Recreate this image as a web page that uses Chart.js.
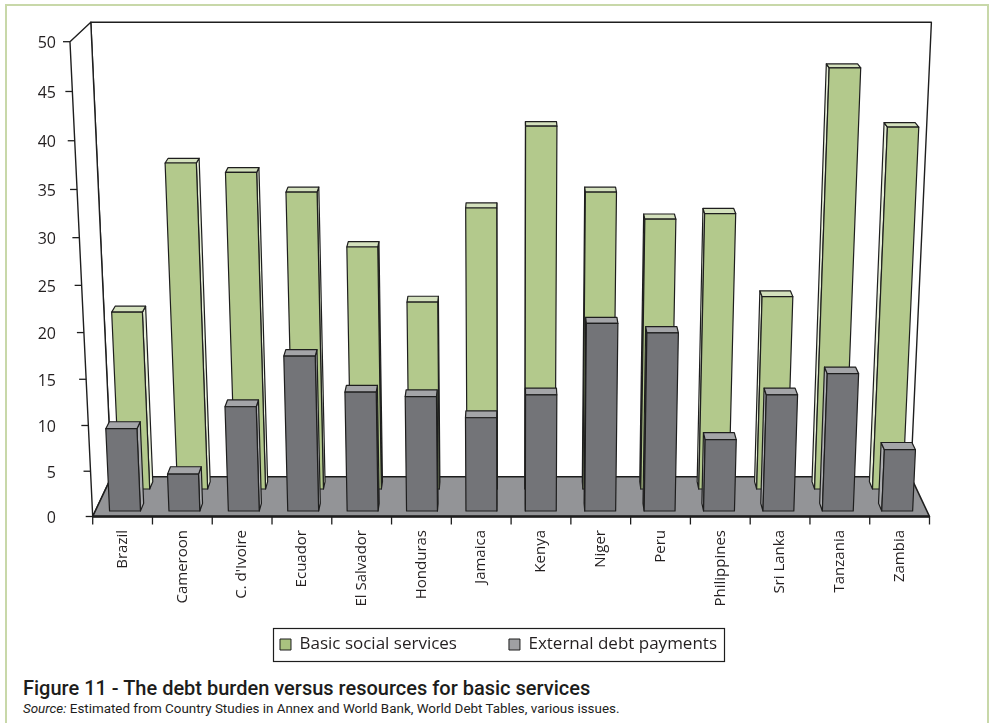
<!DOCTYPE html>
<html lang="en">
<head>
<meta charset="utf-8">
<title>The debt burden versus resources for basic services</title>
<script src="https://cdn.jsdelivr.net/npm/chart.js@4.4.1/dist/chart.umd.min.js"></script>
<style>
  html, body { margin: 0; padding: 0; background: #fff; }
  .page { position: relative; width: 993px; height: 723px; overflow: hidden; }
  .frame { position: absolute; left: 5px; top: 4px; width: 984px; height: 760px; box-sizing: border-box; border: 2px solid #c8d8a9; }
  .plot { position: absolute; left: 0; top: 0; width: 993px; height: 672px; }
  .caption { position: absolute; left: 23px; top: 676px; font: 500 20px Roboto, sans-serif; color: #1d1d1b; white-space: nowrap; }
  .source { position: absolute; left: 23px; top: 701px; font: 13.4px Roboto, sans-serif; color: #1d1d1b; white-space: nowrap; }
</style>
</head>
<body>
<div class="page">
  <div class="frame"></div>
  <div class="plot"><canvas id="debtChart"></canvas></div>
  <div class="caption">Figure 11 - The debt burden versus resources for basic services</div>
  <div class="source"><i>Source:</i> Estimated from Country Studies in Annex and World Bank, World Debt Tables, various issues.</div>
</div>
<script>
const countries = ["Brazil", "Cameroon", "C. d'Ivoire", "Ecuador", "El Salvador", "Honduras", "Jamaica",
    "Kenya", "Niger", "Peru", "Philippines", "Sri Lanka", "Tanzania", "Zambia"];
const basicServices = [19.8, 35.9, 34.9, 32.8, 26.9, 20.9, 31.1, 39.8, 32.8, 29.9, 30.5, 21.5, 45.9, 39.7];
const debtPayments = [9.1, 4.1, 11.5, 17.0, 13.1, 12.6, 10.3, 12.8, 20.5, 19.5, 7.9, 12.8, 15.1, 6.8];
const seriesLabels = ["Basic social services", "External debt payments"];
const valueMax = 50;
const valueStep = 5;

// one look per series: face colours and the depth slot of its row (0 = front, 1 = back wall)
const looks = [
    { front: "#b3c98c", top: "#d4e1bd", side: "#e6eed8", z0: 0.681, z1: 0.87 },
    { front: "#737478", top: "#a4a5a8", side: "#abacaf", z0: 0.133, z1: 0.32 },
];

// perspective camera, slightly above and looking down.
// X runs across (-0.5..0.5), Y up (0..1 of the value axis), Z into the page (0..1)
const cam = { cx: 511.1, sx: 836.8, y0: 516.5, yUp: -476.95, yDepth: -17.4, wDepth: 0.047, wUp: -0.0515 };
const ink = "#1e1e1e";
const textColor = "#231f20";

function project(X, Y, Z) {
    const w = 1 + cam.wDepth * Z + cam.wUp * Y;
    return [cam.cx + (cam.sx * X) / w, (cam.y0 + cam.yUp * Y + cam.yDepth * Z) / w];
}

function face(ctx, pts, fill, lineWidth) {
    ctx.beginPath();
    pts.forEach((p, i) => {
        const [px, py] = project(p[0], p[1], p[2]);
        if (i === 0) ctx.moveTo(px, py); else ctx.lineTo(px, py);
    });
    ctx.closePath();
    if (fill) {
        ctx.fillStyle = fill;
        ctx.fill();
    }
    ctx.lineWidth = lineWidth || 1.2;
    ctx.strokeStyle = ink;
    ctx.stroke();
}

function segment(ctx, a, b, lineWidth) {
    ctx.beginPath();
    ctx.moveTo(a[0], a[1]);
    ctx.lineTo(b[0], b[1]);
    ctx.lineWidth = lineWidth;
    ctx.strokeStyle = ink;
    ctx.stroke();
}

function drawPrism(ctx, x0, x1, top, look) {
    const { z0, z1 } = look;
    // only the side that faces the camera is visible
    const sx = (x0 + x1) / 2 < 0 ? x1 : x0;
    face(ctx, [[sx, 0, z0], [sx, top, z0], [sx, top, z1], [sx, 0, z1]], look.side);
    face(ctx, [[x0, top, z0], [x1, top, z0], [x1, top, z1], [x0, top, z1]], look.top);
    face(ctx, [[x0, 0, z0], [x0, top, z0], [x1, top, z0], [x1, 0, z0]], look.front);
}

const perspectiveBars = {
    id: "perspectiveBars",
    beforeDatasetsDraw(chart) {
        const { ctx, chartArea: area, scales } = chart;
        const flatX = (px) => (px - area.left) / area.width - 0.5;
        const flatY = (py) => (area.bottom - py) / area.height;
        ctx.save();
        ctx.lineJoin = "round";

        // back wall, left wall, floor
        face(ctx, [[-0.5, 0, 1], [-0.5, 1, 1], [0.5, 1, 1], [0.5, 0, 1]], "#ffffff", 1.4);
        face(ctx, [[-0.5, 0, 0], [-0.5, 1, 0], [-0.5, 1, 1], [-0.5, 0, 1]], "#ffffff", 1.4);
        face(ctx, [[-0.5, 0, 0], [0.5, 0, 0], [0.5, 0, 1], [-0.5, 0, 1]], "#939497", 1.6);
        segment(ctx, project(-0.5, 0, 0), project(0.5, 0, 0), 2.4);

        // back row first so the front row covers it
        chart.data.datasets.forEach((ds, di) => {
            const look = looks[di];
            chart.getDatasetMeta(di).data.forEach((bar) => {
                const { x, y, width } = bar.getProps(["x", "y", "width"], true);
                drawPrism(ctx, flatX(x - width / 2), flatX(x + width / 2), flatY(y), look);
            });
        });

        // value axis on the front edge of the left wall
        const yScale = scales.y;
        ctx.font = '16px "Open Sans", sans-serif';
        ctx.fillStyle = textColor;
        ctx.textAlign = "right";
        ctx.textBaseline = "middle";
        yScale.ticks.forEach((t) => {
            const p = project(-0.5, flatY(yScale.getPixelForValue(t.value)), 0);
            segment(ctx, [p[0] - 7, p[1]], p, 1.3);
            ctx.fillText(String(t.value), 56, p[1] + 2);
        });

        // category ticks and rotated country names
        const xScale = scales.x;
        const half = (xScale.getPixelForValue(1) - xScale.getPixelForValue(0)) / 2;
        for (let k = 0; k <= countries.length; k++) {
            const p = project(flatX(xScale.getPixelForValue(0) - half + 2 * half * k), 0, 0);
            segment(ctx, p, [p[0], p[1] + 8], 1.3);
        }
        ctx.font = '15px "Open Sans", sans-serif';
        countries.forEach((name, i) => {
            const p = project(flatX(xScale.getPixelForValue(i)), 0, 0);
            ctx.save();
            ctx.translate(p[0], 530);
            ctx.rotate(-Math.PI / 2);
            ctx.textAlign = "right";
            ctx.fillText(name, 0, 0);
            ctx.restore();
        });

        ctx.restore();
        return false;
    },
};

const legendFrame = {
    id: "legendFrame",
    afterDraw(chart) {
        const boxes = chart.legend && chart.legend.legendHitBoxes;
        if (!boxes || !boxes.length) return;
        const left = Math.min(...boxes.map((b) => b.left)) - 7;
        const right = Math.max(...boxes.map((b) => b.left + b.width)) + 7;
        const top = Math.min(...boxes.map((b) => b.top)) - 8;
        const bottom = Math.max(...boxes.map((b) => b.top + b.height)) + 8;
        const { ctx } = chart;
        ctx.save();
        ctx.strokeStyle = ink;
        ctx.lineWidth = 1.2;
        ctx.strokeRect(Math.round(left) + 0.5, Math.round(top) + 0.5, Math.round(right - left), Math.round(bottom - top));
        ctx.restore();
    },
};

new Chart(document.getElementById("debtChart"), {
    type: "bar",
    data: {
        labels: countries,
        datasets: [
            { label: seriesLabels[0], data: basicServices, backgroundColor: "#a9c37f", borderColor: ink, borderWidth: 1, grouped: false },
            { label: seriesLabels[1], data: debtPayments, backgroundColor: "#9fa0a3", borderColor: ink, borderWidth: 1, grouped: false },
        ],
    },
    options: {
        responsive: true,
        maintainAspectRatio: false,
        animation: false,
        events: [],
        layout: { padding: { left: 4, right: 0, top: 0, bottom: 9 } },
        datasets: { bar: { categoryPercentage: 1, barPercentage: 0.52 } },
        scales: {
            x: { display: false },
            y: { display: false, min: 0, max: valueMax, ticks: { stepSize: valueStep } },
        },
        plugins: {
            legend: {
                position: "bottom",
                labels: {
                    font: { family: "Open Sans", size: 17 },
                    color: textColor,
                    boxWidth: 11,
                    boxHeight: 11,
                    padding: 52,
                },
            },
            tooltip: { enabled: false },
        },
    },
    plugins: [perspectiveBars, legendFrame],
});
</script>
</body>
</html>
